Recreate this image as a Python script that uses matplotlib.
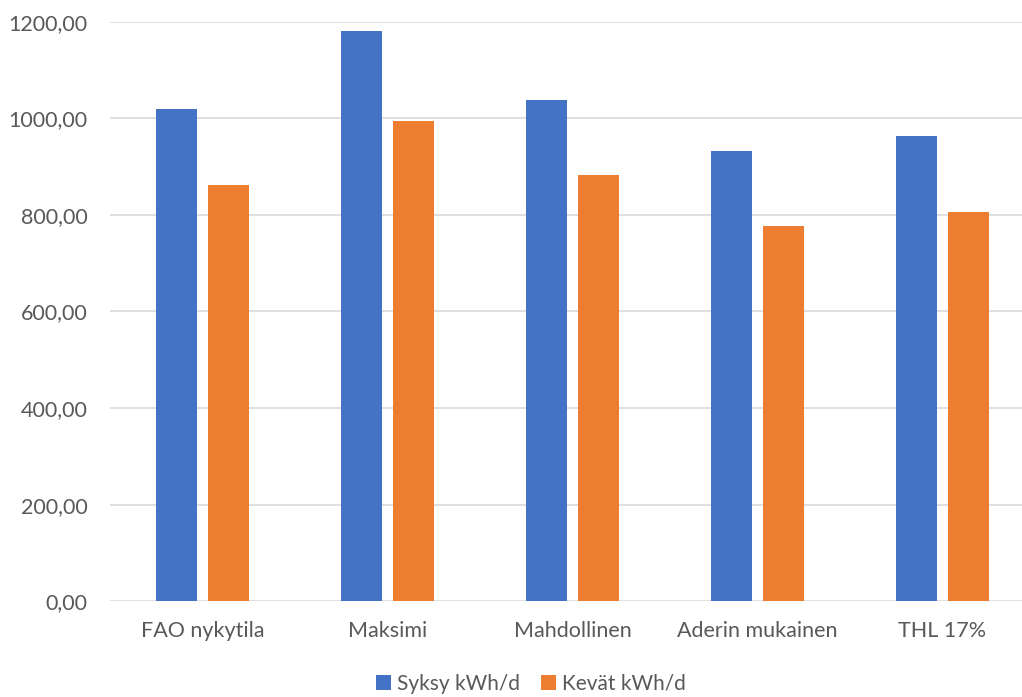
import matplotlib
matplotlib.use("Agg")
import matplotlib.pyplot as plt
import numpy as np

categories = ["FAO nykytila", "Maksimi", "Mahdollinen", "Aderin mukainen", "THL 17%"]
syksy = [1018.6, 1180.7, 1038.5, 932.9, 962.7]
kevat = [861.3, 993.8, 882.0, 777.0, 805.4]
yticks = [0, 200, 400, 600, 800, 1000, 1200]

plt.rcParams['font.family'] = ['Lato', 'DejaVu Sans']

fig = plt.figure(figsize=(10.22, 6.97), dpi=100)
ax = fig.add_axes([110 / 1022, 0.1373, 1 - 110 / 1022, 0.9689 - 0.1373])

x = np.arange(len(categories))
w = 0.224
off = 0.142
ax.bar(x - off, syksy, width=w, color="#4472C4", label="Syksy kWh/d", zorder=3)
ax.bar(x + off, kevat, width=w, color="#ED7D31", label="Kevät kWh/d", zorder=3)

ax.set_xlim(-0.5, (1022 - 110) / 185 - 0.5)
ax.set_ylim(0, 1200)
ax.set_yticks(yticks)
ax.set_yticklabels([f"{v:.2f}".replace(".", ",") for v in yticks])
ax.set_xticks(x)
ax.set_xticklabels(categories)
ax.tick_params(axis="both", length=0, labelsize=15.5, colors="#595959")
ax.tick_params(axis="y", pad=16)
ax.tick_params(axis="x", pad=14)
ax.yaxis.grid(True, color="#d9d9d9", linewidth=1.2, zorder=0)
for s in ax.spines.values():
    s.set_visible(False)

fig.legend(loc="center", bbox_to_anchor=(531 / 1022, 1 - 684 / 697), ncol=2,
           frameon=False, fontsize=15, handlelength=0.7, handleheight=0.7,
           handletextpad=0.3, columnspacing=1.0, labelcolor="#595959")

fig.savefig("out.png", dpi=100)
